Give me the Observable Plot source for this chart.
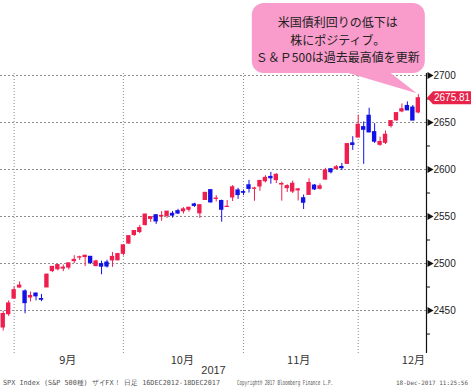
<!DOCTYPE html>
<html><head><meta charset="utf-8">
<script src="https://cdn.jsdelivr.net/npm/d3@7"></script>
<script src="https://cdn.jsdelivr.net/npm/@observablehq/plot@0.6"></script>
<style>body{margin:0;background:#fff}#c{width:475px;height:390px}</style>
</head><body><div id="c"></div>
<script>
const dates = ["2017-08-29","2017-08-30","2017-08-31","2017-09-01","2017-09-05","2017-09-06","2017-09-07","2017-09-08","2017-09-11","2017-09-12","2017-09-13","2017-09-14","2017-09-15","2017-09-18","2017-09-19","2017-09-20","2017-09-21","2017-09-22","2017-09-25","2017-09-26","2017-09-27","2017-09-28","2017-09-29","2017-10-02","2017-10-03","2017-10-04","2017-10-05","2017-10-06","2017-10-09","2017-10-10","2017-10-11","2017-10-12","2017-10-13","2017-10-16","2017-10-17","2017-10-18","2017-10-19","2017-10-20","2017-10-23","2017-10-24","2017-10-25","2017-10-26","2017-10-27","2017-10-30","2017-10-31","2017-11-01","2017-11-02","2017-11-03","2017-11-06","2017-11-07","2017-11-08","2017-11-09","2017-11-10","2017-11-13","2017-11-14","2017-11-15","2017-11-16","2017-11-17","2017-11-20","2017-11-21","2017-11-22","2017-11-24","2017-11-27","2017-11-28","2017-11-29","2017-11-30","2017-12-01","2017-12-04","2017-12-05","2017-12-06","2017-12-07","2017-12-08","2017-12-11","2017-12-12","2017-12-13","2017-12-14","2017-12-15"];
const open  = [2431.94,2446.06,2462.65,2474.42,2470.35,2463.83,2468.06,2462.25,2474.52,2491.94,2493.89,2494.56,2495.67,2502.51,2506.29,2506.84,2507.16,2497.26,2499.39,2501.04,2503.30,2503.41,2510.31,2521.20,2530.34,2533.48,2540.86,2547.44,2551.39,2549.99,2550.62,2552.88,2555.66,2555.57,2557.17,2562.87,2553.39,2567.56,2578.08,2568.66,2566.52,2560.08,2570.26,2577.75,2575.99,2583.21,2579.46,2581.93,2587.47,2592.11,2588.71,2584.00,2580.18,2576.53,2577.75,2569.45,2572.95,2582.94,2579.49,2589.17,2600.31,2600.42,2602.66,2605.94,2627.82,2633.93,2645.10,2657.19,2639.78,2626.24,2628.38,2646.21,2652.19,2661.73,2667.59,2665.87,2660.63];
const high  = [2449.19,2460.31,2475.01,2480.38,2471.97,2469.64,2468.62,2467.11,2488.95,2496.77,2498.37,2498.43,2500.23,2508.32,2507.84,2508.85,2507.16,2503.47,2502.54,2503.51,2511.75,2510.81,2519.44,2529.23,2535.13,2540.53,2552.51,2549.41,2551.82,2555.23,2555.24,2555.33,2557.65,2559.47,2559.71,2564.11,2562.36,2575.44,2578.29,2572.18,2567.40,2567.07,2582.98,2580.03,2578.29,2588.40,2581.11,2588.42,2593.38,2597.02,2595.47,2586.50,2583.81,2587.66,2579.66,2572.84,2590.09,2583.96,2584.64,2601.19,2600.94,2604.21,2606.41,2627.69,2634.89,2657.74,2650.62,2665.19,2648.72,2634.41,2640.99,2651.65,2660.33,2669.72,2671.88,2668.09,2679.63];
const low   = [2428.20,2443.77,2462.65,2473.85,2446.55,2459.20,2460.29,2459.40,2474.52,2490.37,2492.14,2491.35,2493.16,2499.92,2503.19,2496.67,2499.00,2496.54,2488.03,2495.12,2495.91,2502.93,2507.99,2520.40,2528.85,2531.80,2540.02,2543.79,2541.60,2544.86,2547.95,2548.31,2552.09,2552.64,2554.69,2559.67,2547.92,2567.56,2564.33,2565.58,2544.00,2559.80,2565.94,2568.25,2572.15,2574.92,2566.17,2576.77,2585.66,2584.35,2585.02,2566.33,2575.57,2574.48,2566.56,2557.45,2572.95,2577.62,2578.24,2589.17,2595.23,2600.42,2598.87,2605.44,2620.32,2633.93,2605.52,2639.03,2627.73,2624.75,2626.53,2644.10,2651.47,2660.36,2662.85,2652.01,2659.14];
const close = [2446.30,2457.59,2471.65,2476.55,2457.85,2465.54,2465.10,2461.43,2488.11,2496.48,2498.37,2495.62,2500.23,2503.87,2506.65,2508.24,2500.60,2502.22,2496.66,2496.84,2507.04,2510.06,2519.36,2529.12,2534.58,2537.74,2552.07,2549.33,2544.73,2550.64,2555.24,2550.93,2553.17,2557.64,2559.36,2561.26,2562.10,2575.21,2564.98,2569.13,2557.15,2560.40,2581.07,2572.83,2575.26,2579.36,2579.85,2587.84,2591.13,2590.64,2594.38,2584.62,2582.30,2584.84,2578.87,2564.62,2585.64,2578.85,2582.14,2599.03,2597.08,2602.42,2601.42,2627.04,2626.07,2647.58,2642.22,2639.44,2629.57,2629.27,2636.98,2651.50,2659.99,2664.11,2662.85,2652.01,2675.81];

const majorTicks = [2450, 2500, 2550, 2600, 2650, 2700];
const minorTicks = [2425, 2475, 2525, 2575, 2625, 2675];
const monthLabels = ["9月", "10月", "11月", "12月"];
const monthLabelIdx = [11.8, 32.8, 54.1, 75.1];
const monthEndIdx = [2, 22, 44, 65];
const yearLabel = "2017";
const yearLabelIdx = 38.5;
const calloutLines = ["米国債利回りの低下は", "株にポジティブ。", "Ｓ＆Ｐ500は過去最高値を更新"];
const footerTexts = ["SPX Index (S&P 500種) ザイFX！ 日足 16DEC2012-18DEC2017", "Copyright® 2017 Bloomberg Finance L.P.", "18-Dec-2017 11:25:56"];

const RED = "#ee1f4f", BLUE = "#1212e6";
const data = dates.map((d, i) => ({i, date: d, o: open[i], h: high[i], l: low[i], c: close[i], col: close[i] >= open[i] ? RED : BLUE}));

const chart = Plot.plot({
  width: 475, height: 390,
  marginLeft: 0, marginRight: 49, marginTop: 73, marginBottom: 37,
  style: {background: "#fff", fontFamily: "'Liberation Sans', Arial, sans-serif", overflow: "visible"},
  x: {type: "linear", domain: [-0.5, 77.5], axis: null},
  y: {domain: [2404.3, 2702.1]},
  marks: [
    Plot.ruleY(majorTicks, {stroke: "#8c8c8c", strokeDasharray: "2,2", strokeWidth: 1}),
    Plot.ruleX(monthEndIdx, {stroke: "#8c8c8c", strokeDasharray: "1,2", strokeWidth: 1}),
    Plot.ruleX(data, {x: "i", y1: "l", y2: "h", stroke: "col", strokeWidth: 1}),
    Plot.rect(data, {x1: d => d.i - 0.4, x2: d => d.i + 0.4, y1: d => Math.min(d.o, d.c), y2: d => Math.max(d.o, d.c), fill: "col", insetTop: -0.5, insetBottom: -0.5}),
    Plot.ruleX([77.5], {stroke: "#111", strokeWidth: 1.2}),
    Plot.axisY({anchor: "right", ticks: minorTicks, tickSize: 3, tickFormat: () => "", stroke: "#111"}),
    Plot.axisY({anchor: "right", ticks: majorTicks, tickSize: 0, tickPadding: 7, tickFormat: d => String(d), fontSize: 10, fill: "#222"}),
    Plot.dotY(majorTicks, {frameAnchor: "right", dx: 3, symbol: "triangle", rotate: 90, r: 2.6, fill: "#111", stroke: null}),
    Plot.text(monthLabels, {x: (d, i) => monthLabelIdx[i], text: d => d, frameAnchor: "bottom", dy: 10, fontSize: 11, fill: "#333", fontFamily: "'Noto Sans CJK JP', sans-serif"}),
    Plot.text([yearLabel], {x: () => yearLabelIdx, text: d => d, frameAnchor: "bottom", dy: 20, fontSize: 11, fill: "#333"})
  ]
});
document.getElementById("c").appendChild(chart);

const xs = chart.scale("x"), ys = chart.scale("y");
const svg = d3.select(chart);
const last = data[data.length - 1];

// price tag
const py = ys.apply(last.c);
const ax = xs.apply(77.5);
svg.append("path")
  .attr("d", `M${ax + 1},${py} L${ax + 7},${py - 6.5} L${ax + 45},${py - 6.5} L${ax + 45},${py + 6.5} L${ax + 7},${py + 6.5} Z`)
  .attr("fill", "#e8234a");
svg.append("text").attr("x", ax + 8).attr("y", py).attr("dy", "0.35em")
  .attr("text-anchor", "start")
  .attr("font-size", 10).attr("font-family", "'Liberation Sans', Arial, sans-serif")
  .attr("fill", "#fff").text(last.c.toFixed(2));

// callout
const tx = xs.apply(last.i) - 1, ty = ys.apply(last.h) - 1;
const PINK = "#f99bcb";
const g = svg.append("g");
g.append("path").attr("d", `M${tx - 81},${ty - 24} L${tx - 31},${ty - 24} L${tx},${ty} Z`).attr("fill", PINK);
g.append("rect").attr("x", tx - 165).attr("y", 3).attr("width", 173).attr("height", 70).attr("rx", 12).attr("fill", PINK);
calloutLines.forEach((t, k) => {
  g.append("text").attr("x", tx - 79).attr("y", 27 + k * 17.5)
    .attr("text-anchor", "middle").attr("font-size", 12)
    .attr("font-family", "'Noto Sans CJK JP', sans-serif").attr("fill", "#222").text(t);
});

// footer
const fx = [3, 237, 396], fw = [217, 96, 72], fs = [7, 7, 6];
footerTexts.forEach((t, k) => {
  svg.append("text").attr("x", fx[k]).attr("y", 385)
    .attr("text-anchor", "start")
    .attr("font-size", fs[k]).attr("font-family", "'DejaVu Sans Mono', monospace")
    .attr("fill", "#555").attr("textLength", fw[k]).attr("lengthAdjust", "spacingAndGlyphs").text(t);
});
</script>
</body></html>
